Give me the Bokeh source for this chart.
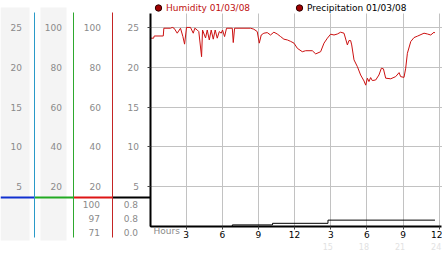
from bokeh.plotting import figure
from bokeh.models import (Range1d, LinearAxis, FixedTicker, BoxAnnotation, Label,
                          Legend, LegendItem)
from bokeh.embed import file_html
from bokeh.resources import INLINE

# ---------------- data ----------------
hum_hours = [0, 0.3, 0.35, 1.1, 1.15, 1.7, 1.84, 2.0, 2.26, 2.53, 2.73, 2.87, 3.03, 3.36,
             3.59, 3.72, 3.92, 4.05, 4.28, 4.36, 4.61, 4.75, 4.92, 5.08, 5.25, 5.41, 5.58,
             5.75, 5.91, 6.02, 6.19, 6.35, 6.83, 6.91, 7.02, 8.35, 8.62, 8.9, 9.07, 9.23,
             9.45, 9.73, 10.0, 10.28, 10.56, 10.84, 11.11, 11.4, 11.67, 11.95, 12.23, 12.64,
             12.92, 13.47, 13.75, 14.16, 14.44, 14.72, 14.99, 15.27, 15.55, 15.82, 16.1,
             16.38, 16.51, 16.65, 16.74, 16.93, 17.21, 17.48, 17.76, 17.9, 18.04, 18.17,
             18.31, 18.45, 18.73, 19.0, 19.2, 19.37, 19.56, 19.98, 20.39, 20.67, 20.8, 21.08,
             21.22, 21.36, 21.64, 21.91, 22.19, 22.74, 23.02, 23.3, 23.57, 23.65]
hum_pct = [94.6, 94.6, 95.7, 95.7, 99.6, 99.6, 100, 99.6, 97.1, 99.6, 95.4, 91.6, 100, 100,
           97.1, 99.6, 98.7, 97.9, 85.3, 98.7, 94.7, 98.7, 93.7, 98.7, 94.1, 98.7, 94.6,
           97.9, 97.1, 98.7, 95.4, 99.6, 99.6, 92.4, 99.6, 99.6, 99.1, 97.9, 92.1, 96.2,
           97.1, 97.4, 96.2, 97.6, 96.7, 95.4, 94.1, 93.7, 93.0, 92.1, 89.5, 87.8,
           88.3, 88.3, 86.7, 87.8, 92.1, 94.6, 96.6, 96.2, 96.7, 97.6, 97.1,
           91.2, 93.4, 93.4, 91.2, 83.7, 80.3, 76.1, 73.1, 71.0, 74.5, 72.8,
           74.8, 73.3, 73.6, 76.1, 79.5, 79.2, 74.5, 74.2, 75.3, 77.3, 75.3, 74.9,
           79.5, 87.0, 92.9, 94.9, 95.6, 97.1, 96.7, 96.2, 97.6, 97.2]
precip_hours = [0, 6.83, 10.17, 14.77, 23.65]
precip_vals = [0.0, 0.2, 0.4, 0.8, 0.8]

scale_ticks = [5, 10, 15, 20, 25]
pct_ticks = [20, 40, 60, 80, 100]
hour_ticks = [3, 6, 9, 12, 15, 18, 21, 24]
hour_labels = ["3", "6", "9", "12", "3", "6", "9", "12"]
pm_hours = [15, 18, 21, 24]
pm_labels = ["15", "18", "21", "24"]
hum_stats = ["100", "97", "71"]
precip_stats = ["0.8", "0.8", "0.0"]
stat_levels = [2.76, 1.0, -0.75]
legend_labels = ["Humidity 01/03/08", "Precipitation 01/03/08"]

# ---------------- geometry helpers (pixel layout of the panel) ----------------
W, H = 442, 253
PX0, PXH = 149.5, 12.05     # x pixel of hour 0, pixels per hour
PY0, PYU = 226.0, 7.963     # y pixel of value 0, pixels per unit
def hx(px):
    return (px - PX0) / PXH
def uy(py):
    return (PY0 - py) / PYU

FONT = "DejaVu Sans"
GRAY = "#8a8a8a"
TOP = 26.75
NAN = float("nan")

p = figure(width=W, height=H, output_backend="svg", toolbar_location=None,
           x_range=Range1d(hx(0), hx(W)), y_range=Range1d(uy(H), uy(0)),
           min_border=0)
p.extra_y_ranges = {"pct": Range1d(4 * uy(H), 4 * uy(0))}
p.outline_line_color = None
p.background_fill_color = "white"
p.border_fill_color = "white"

# main left axis (black)
ya = p.yaxis[0]
ya.fixed_location = 0
ya.bounds = (0, TOP)
ya.ticker = FixedTicker(ticks=scale_ticks)
ya.axis_line_color = "black"
ya.axis_line_width = 2
ya.major_tick_out = 3
ya.major_tick_in = 0
ya.major_tick_line_color = "#444444"
ya.minor_tick_line_color = None
ya.major_label_standoff = 8
ya.major_label_text_font = FONT
ya.major_label_text_font_size = "9px"
ya.major_label_text_color = GRAY

xa = p.xaxis[0]
xa.fixed_location = 0
xa.bounds = (0, hx(W - 1))
xa.ticker = FixedTicker(ticks=hour_ticks)
xa.major_label_overrides = {t: s for t, s in zip(hour_ticks, hour_labels)}
xa.axis_line_color = "black"
xa.axis_line_width = 2
xa.major_tick_out = 3
xa.major_tick_in = 0
xa.major_tick_line_color = "#444444"
xa.minor_tick_line_color = None
xa.major_label_standoff = 1
xa.major_label_text_font = FONT
xa.major_label_text_font_size = "9px"
xa.major_label_text_color = "black"

p.xgrid.grid_line_color = "#c2c2c2"
p.ygrid.grid_line_color = "#c2c2c2"
p.xgrid.cross_bounds = (0, TOP)
p.ygrid.cross_bounds = (0, hx(W))

col_px = [33.5, 72.5, 111.5]
col_h = [hx(v) for v in col_px]
line_lo, line_hi = uy(237), uy(12)

def side_axis(rng, ticks, color, loc, factor, standoff):
    ax = LinearAxis(ticker=FixedTicker(ticks=ticks), axis_line_color=color,
                    axis_line_width=1, major_tick_out=0, major_tick_in=0,
                    major_tick_line_color=None, minor_tick_line_color=None,
                    major_label_standoff=standoff, major_label_text_font=FONT,
                    major_label_text_font_size="9px", major_label_text_color=GRAY,
                    fixed_location=loc, bounds=(factor * line_lo, factor * line_hi))
    if rng:
        ax.y_range_name = rng
    return ax

p.add_layout(side_axis("pct", pct_ticks, "#c42424", col_h[2], 4, 11), "left")
p.add_layout(side_axis("pct", pct_ticks, "#2ea82e", col_h[1], 4, 11), "left")
p.add_layout(side_axis(None, scale_ticks, "#2a9ac8", col_h[0], 1, 12), "left")

# column backgrounds
for l, r in [(0, 29), (40, 66)]:
    p.add_layout(BoxAnnotation(left=hx(l), right=hx(r), top=uy(7), bottom=uy(240),
                               fill_color="#f4f4f4", fill_alpha=1, line_color=None,
                               level="underlay"))

# separator under the scales
sep_y = uy(197)
p.segment(x0=[hx(0)] + col_h, x1=col_h + [0], y0=[sep_y] * 4, y1=[sep_y] * 4,
          line_color=["#1030d0", "#22aa22", "#dd1515", "black"], line_width=2)

# data
p.line(hum_hours, hum_pct, y_range_name="pct", line_color="#cc1111", line_width=1)
p.step(precip_hours, precip_vals, mode="after", line_color="black", line_width=1)

# stats under the humidity / precipitation scales
for hs, ps, yy in zip(hum_stats, precip_stats, stat_levels):
    p.add_layout(Label(x=col_h[2], y=yy, x_offset=-12, text=hs,
                       text_align="right", text_baseline="middle", text_font=FONT,
                       text_font_size="9px", text_color=GRAY))
    p.add_layout(Label(x=0, y=yy, x_offset=-12, text=ps,
                       text_align="right", text_baseline="middle", text_font=FONT,
                       text_font_size="9px", text_color=GRAY))

p.add_layout(Label(x=hx(153), y=uy(230), text="Hours",
                   text_align="left", text_baseline="middle", text_font=FONT,
                   text_font_size="9px", text_color=GRAY))
for h, s in zip(pm_hours, pm_labels):
    p.add_layout(Label(x=h, y=uy(246), x_offset=-3, text=s, text_align="center",
                       text_baseline="middle", text_font=FONT, text_font_size="8px",
                       text_color="#e2e2e2"))

# legends (marker-only renderers with no visible point)
r_h = p.scatter([NAN], [NAN], size=7, fill_color="#a00000", line_color="#300000")
r_p = p.scatter([NAN], [NAN], size=7, fill_color="#a00000", line_color="#300000")
for r, lab, col, xloc in [(r_h, legend_labels[0], "#c01010", 150),
                          (r_p, legend_labels[1], "black", 291)]:
    lg = Legend(items=[LegendItem(label=lab, renderers=[r], index=0)],
                location=(xloc, H - 16),
                orientation="horizontal", padding=0, margin=0, spacing=0,
                border_line_color=None, background_fill_alpha=0,
                glyph_width=16, glyph_height=17, label_standoff=0, label_height=9,
                label_text_font=FONT, label_text_font_size="9px",
                label_text_color=col)
    p.add_layout(lg)

open("out.html", "w").write(file_html(p, INLINE))
